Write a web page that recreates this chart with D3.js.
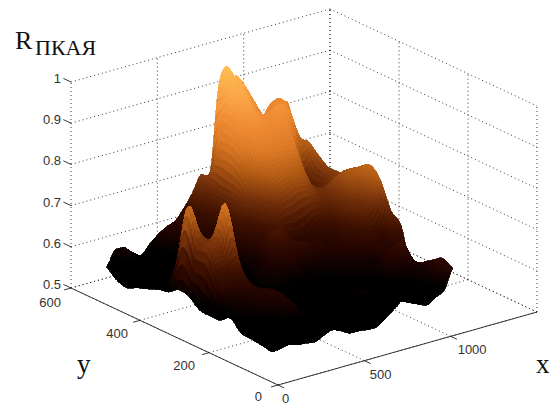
<!DOCTYPE html>
<html>
<head>
<meta charset="utf-8">
<script src="https://cdn.jsdelivr.net/npm/d3@7"></script>
<style>
    html, body { margin: 0; background: #fff; }
    svg { display: block; }
    text { font-family: "Liberation Sans", Arial, sans-serif; font-size: 13px; fill: #333; }
    .big { font-family: "Liberation Serif", "Times New Roman", serif; fill: #111; }
</style>
</head>
<body>
<svg id="canvas" width="553" height="405"></svg>
<script>
const xTicks = [0, 500, 1000];
const yTicks = [0, 200, 400, 600];
const zTicks = [0.5, 0.6, 0.7, 0.8, 0.9, 1];
const xWalls = [0, 500, 1000, 1500];

// sample positions of the surface
const xSamples = [120, 170, 220, 270, 320, 370, 420, 470, 520, 570, 620, 670, 720, 770, 820, 845, 870, 920, 970, 1020, 1070, 1120, 1170];
const ySamples = [558, 528, 498, 468, 438, 408, 378, 348, 318, 288, 258, 228, 198, 168, 138, 108, 78];

// R values, one row per entry of ySamples
const rValues = [
    [.553, .589, .590, .571, .558, .579, .597, .610, .619, .644, .675, .714, .703, .913, .959, .919, .930, .901, .860, .813, .837, .845, .830],
    [.533, .570, .578, .570, .558, .570, .585, .600, .612, .635, .665, .700, .800, .920, .930, .915, .900, .850, .830, .825, .845, .830, .756],
    [.526, .555, .565, .560, .555, .562, .575, .590, .602, .625, .650, .690, .800, .890, .900, .880, .860, .850, .860, .865, .835, .750, .758],
    [.538, .548, .555, .552, .552, .555, .565, .580, .595, .615, .640, .690, .780, .850, .860, .852, .845, .840, .845, .800, .706, .660, .736],
    [.547, .550, .555, .552, .550, .552, .558, .570, .590, .605, .640, .680, .740, .800, .815, .812, .810, .810, .800, .716, .687, .673, .718],
    [.558, .560, .570, .560, .550, .550, .555, .565, .580, .600, .625, .655, .700, .745, .760, .762, .765, .760, .740, .700, .693, .700, .718],
    [.563, .634, .700, .600, .565, .552, .555, .562, .572, .590, .610, .630, .660, .695, .705, .710, .715, .715, .700, .690, .715, .735, .738],
    [.580, .775, .720, .660, .600, .565, .558, .565, .575, .590, .610, .657, .655, .625, .610, .612, .615, .635, .650, .675, .715, .745, .756],
    [.575, .700, .700, .688, .620, .575, .565, .570, .585, .600, .610, .625, .625, .630, .623, .622, .622, .610, .620, .665, .700, .730, .771],
    [.555, .706, .705, .797, .665, .590, .570, .575, .585, .592, .590, .600, .588, .590, .595, .597, .600, .605, .620, .640, .670, .700, .746],
    [.552, .640, .650, .680, .630, .590, .580, .575, .575, .575, .572, .575, .575, .575, .585, .587, .590, .595, .600, .610, .630, .620, .684],
    [.553, .590, .600, .620, .610, .600, .585, .570, .565, .565, .568, .570, .570, .565, .570, .574, .578, .585, .588, .590, .615, .610, .658],
    [.570, .585, .590, .600, .610, .610, .590, .565, .555, .555, .560, .565, .565, .560, .560, .565, .570, .575, .580, .604, .616, .637, .558],
    [.546, .565, .575, .590, .600, .605, .585, .560, .550, .550, .550, .558, .570, .570, .560, .555, .550, .555, .565, .590, .590, .600, .592],
    [.543, .550, .560, .570, .585, .590, .570, .555, .545, .545, .545, .550, .565, .580, .570, .560, .550, .545, .550, .570, .580, .590, .611],
    [.540, .545, .548, .550, .555, .560, .552, .548, .545, .540, .540, .540, .545, .550, .550, .550, .550, .555, .560, .555, .570, .590, .627],
    [.535, .537, .541, .535, .533, .530, .539, .547, .539, .528, .527, .524, .523, .536, .552, .560, .570, .560, .551, .543, .556, .568, .615]
];

const svg = d3.select("#canvas");

// the box is an oblique view, each data axis is a scale on both screen directions
const xToLeft = d3.scaleLinear().domain([0, 1500]).range([0, 259]);
const xToTop = d3.scaleLinear().domain([0, 1500]).range([0, -73]);
const yToLeft = d3.scaleLinear().domain([0, 600]).range([0, -207]);
const yToTop = d3.scaleLinear().domain([0, 600]).range([0, -97]);
const zToTop = d3.scaleLinear().domain([0.5, 1]).range([0, -206]);

const project = (x, y, z) => [
    278 + xToLeft(x) + yToLeft(y),
    385 + xToTop(x) + yToTop(y) + zToTop(z)
];

const color = d3.scaleLinear()
    .domain([0.572, 0.61, 0.65, 0.7, 0.75, 0.8, 0.85, 0.9, 0.96, 1])
    .range(["#000000", "#240500", "#3f1100", "#74300a", "#b05a14", "#dd7a26", "#ef8c34", "#f9a345", "#ffbe55", "#ffd070"])
    .clamp(true);

const dotted = (from, to) => {
    const a = project(...from);
    const b = project(...to);
    svg.append("line")
        .attr("x1", a[0]).attr("y1", a[1])
        .attr("x2", b[0]).attr("y2", b[1])
        .attr("stroke", "#222")
        .attr("stroke-width", 0.9)
        .attr("stroke-dasharray", "1,3");
};

const solid = (from, to) => {
    const a = project(...from);
    const b = project(...to);
    svg.append("line")
        .attr("x1", a[0]).attr("y1", a[1])
        .attr("x2", b[0]).attr("y2", b[1])
        .attr("stroke", "#222")
        .attr("stroke-width", 0.9);
};

// walls and floor grid
zTicks.forEach((z) => {
    dotted([0, 600, z], [1500, 600, z]);
    dotted([1500, 600, z], [1500, 0, z]);
});
xWalls.forEach((x) => {
    dotted([x, 600, 0.5], [x, 600, 1]);
    dotted([x, 0, 0.5], [x, 600, 0.5]);
});
yTicks.forEach((y) => {
    dotted([1500, y, 0.5], [1500, y, 1]);
    dotted([0, y, 0.5], [1500, y, 0.5]);
});

// rounded reading between samples for the drawing only, kept inside the cell's own range
const spline = (a, b, c, d, t) => {
    const v = 0.5 * (2 * b + (c - a) * t + (2 * a - 5 * b + 4 * c - d) * t * t + (3 * b - a - 3 * c + d) * t * t * t);
    return Math.max(Math.min(b, c), Math.min(Math.max(b, c), v));
};
const at = (r, c) => rValues[Math.max(0, Math.min(ySamples.length - 1, r))][Math.max(0, Math.min(xSamples.length - 1, c))];
const surfaceAt = (row, col, u, v) => {
    const across = [-1, 0, 1, 2].map((k) =>
        spline(at(row + k, col - 1), at(row + k, col), at(row + k, col + 1), at(row + k, col + 2), u));
    return spline(across[0], across[1], across[2], across[3], v);
};

// surface, far cells first, each cell split in small pieces for the colour steps
const parts = 6;
const cells = [];
d3.range(ySamples.length - 1).forEach((row) => {
    d3.range(xSamples.length - 2, -1, -1).forEach((col) => {
        const corner = (i, j) => project(
            xSamples[col] + (xSamples[col + 1] - xSamples[col]) * i / parts,
            ySamples[row] + (ySamples[row + 1] - ySamples[row]) * j / parts,
            surfaceAt(row, col, i / parts, j / parts)
        );
        d3.range(parts).forEach((j) => {
            d3.range(parts - 1, -1, -1).forEach((i) => {
                cells.push({
                    points: [corner(i, j), corner(i + 1, j), corner(i + 1, j + 1), corner(i, j + 1)],
                    level: surfaceAt(row, col, (i + 0.5) / parts, (j + 0.5) / parts)
                });
            });
        });
    });
});

svg.append("g")
    .attr("shape-rendering", "crispEdges")
    .selectAll("polygon")
    .data(cells)
    .enter()
    .append("polygon")
    .attr("points", (d) => d.points.map((p) => p.join(",")).join(" "))
    .attr("fill", (d) => color(d.level))
    .attr("stroke", (d) => color(d.level))
    .attr("stroke-width", 0.8);

// axis lines and ticks
solid([0, 0, 0.5], [1500, 0, 0.5]);
solid([0, 0, 0.5], [0, 600, 0.5]);
xTicks.forEach((x) => solid([x, 0, 0.5], [x, -18, 0.5]));
yTicks.forEach((y) => solid([0, y, 0.5], [-40, y, 0.5]));
zTicks.forEach((z) => solid([0, 600, z], [0, 622, z]));

const label = (text, left, top, anchor) => {
    svg.append("text")
        .attr("x", left)
        .attr("y", top)
        .attr("text-anchor", anchor)
        .text(text);
};

zTicks.forEach((z) => {
    label(z, 61, project(0, 600, z)[1] + 1, "end");
});
yTicks.forEach((y) => {
    const p = project(0, y, 0.5);
    label(y, p[0] - 16 + y * 0.01, p[1] + 16 + y * 0.005, "end");
});
xTicks.forEach((x) => {
    const p = project(x, 0, 0.5);
    label(x, p[0] + 4 + x * 0.003, p[1] + 18, "start");
});

svg.append("text").attr("class", "big").attr("x", 15).attr("y", 49).style("font-size", "26px").text("R");
svg.append("text").attr("class", "big").attr("x", 35).attr("y", 55).style("font-size", "22px").text("ПКАЯ");
svg.append("text").attr("class", "big").attr("x", 77).attr("y", 373).style("font-size", "27px").text("y");
svg.append("text").attr("class", "big").attr("x", 536).attr("y", 373).style("font-size", "27px").text("x");
</script>
</body>
</html>
